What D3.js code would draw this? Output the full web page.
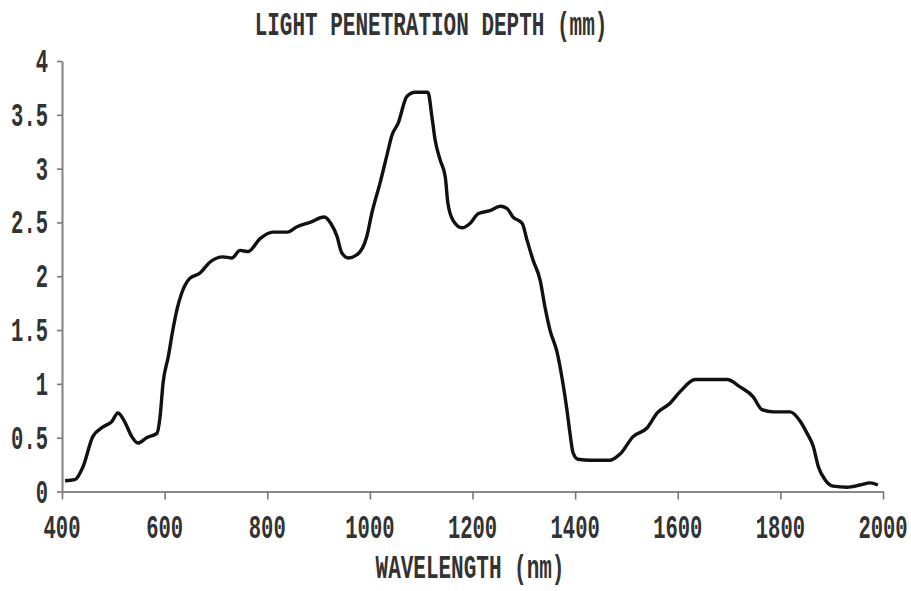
<!DOCTYPE html>
<html>
<head>
<meta charset="utf-8">
<script src="https://cdn.jsdelivr.net/npm/d3@7/dist/d3.min.js"></script>
<style>
  html, body { margin: 0; padding: 0; background: #fff; }
  svg { display: block; }
  .lbl { font-family: "Liberation Mono", "DejaVu Sans Mono", monospace; font-weight: bold; fill: #333; }
</style>
</head>
<body>
<svg id="chart" width="911" height="591"></svg>
<script>
const wavelength = [406,425,441,460,480,497,509,523,536,548,565,585,591,597,607,616,624,633,649,669,688,714,731,747,763,786,811,839,858,883,911,924,936,945,958,975,994,1004,1020,1034,1043,1055,1072,1088,1113,1121,1127,1137,1147,1152,1162,1180,1195,1211,1234,1254,1267,1279,1297,1306,1318,1332,1341,1351,1365,1375,1384,1390,1396,1406,1430,1468,1488,1513,1540,1560,1585,1605,1634,1657,1696,1722,1747,1764,1786,1819,1839,1852,1864,1874,1887,1903,1930,1955,1975,1990];
const depth = [0.10,0.11,0.23,0.51,0.60,0.65,0.73,0.64,0.51,0.45,0.50,0.54,0.69,1.01,1.25,1.50,1.69,1.84,1.98,2.03,2.13,2.18,2.17,2.24,2.23,2.35,2.41,2.41,2.46,2.50,2.55,2.49,2.37,2.22,2.17,2.20,2.37,2.59,2.87,3.14,3.31,3.42,3.67,3.71,3.71,3.48,3.27,3.08,2.92,2.68,2.52,2.45,2.49,2.58,2.61,2.65,2.63,2.55,2.49,2.34,2.15,1.96,1.72,1.50,1.29,1.04,0.76,0.54,0.36,0.30,0.29,0.29,0.35,0.51,0.59,0.73,0.82,0.93,1.04,1.04,1.04,0.97,0.88,0.76,0.74,0.74,0.65,0.54,0.42,0.23,0.11,0.05,0.04,0.06,0.08,0.06];
const xTicks = [400,600,800,1000,1200,1400,1600,1800,2000];
const yTicks = [0,0.5,1,1.5,2,2.5,3,3.5,4];
const yTickLabels = ["0","0.5","1","1.5","2","2.5","3","3.5","4"];
const titleText = "LIGHT PENETRATION DEPTH (mm)";
const xTitle = "WAVELENGTH (nm)";

const svg = d3.select("#chart");
const x = d3.scaleLinear().domain([400, 2000]).range([62, 883]);
const y = d3.scaleLinear().domain([0, 4]).range([491.5, 61]);
const sy = 1.6;
const fs = 20.5;

// axes
const xAxis = svg.append("g").attr("transform", `translate(0,${y(0)})`)
  .call(d3.axisBottom(x).tickValues(xTicks).tickSize(8).tickSizeOuter(0).tickFormat(""));
const yAxis = svg.append("g").attr("transform", `translate(${x(400)},0)`)
  .call(d3.axisLeft(y).tickValues(yTicks).tickSize(5).tickSizeOuter(0).tickFormat(""));
[xAxis, yAxis].forEach(g => {
  g.select(".domain").attr("stroke", "#8a8a8a").attr("stroke-width", 2.2);
  g.selectAll(".tick line").attr("stroke", "#777").attr("stroke-width", 1.6);
});

// tick labels
svg.append("g").selectAll("text").data(xTicks).join("text")
  .attr("class", "lbl")
  .attr("font-size", fs)
  .attr("text-anchor", "middle")
  .attr("transform", d => `translate(${x(d)},538) scale(1,${sy})`)
  .text(d => d);

svg.append("g").selectAll("text").data(yTicks).join("text")
  .attr("class", "lbl")
  .attr("font-size", fs)
  .attr("text-anchor", "end")
  .attr("transform", d => `translate(48,${y(d) + 11}) scale(1,${sy})`)
  .text((d, i) => yTickLabels[i]);

// titles
svg.append("text").attr("class", "lbl")
  .attr("font-size", 21)
  .attr("text-anchor", "middle")
  .attr("transform", `translate(431,35) scale(1,${sy})`)
  .text(titleText);

svg.append("text").attr("class", "lbl")
  .attr("font-size", 21)
  .attr("text-anchor", "middle")
  .attr("transform", `translate(470,578) scale(1,${sy})`)
  .text(xTitle);

// curve
const pts = wavelength.map((w, i) => [w, depth[i]]);
svg.append("path")
  .datum(pts)
  .attr("fill", "none")
  .attr("stroke", "#111")
  .attr("stroke-width", 3.4)
  .attr("stroke-linejoin", "round")
  .attr("d", d3.line().x(d => x(d[0])).y(d => y(d[1])).curve(d3.curveMonotoneX));
</script>
</body>
</html>
